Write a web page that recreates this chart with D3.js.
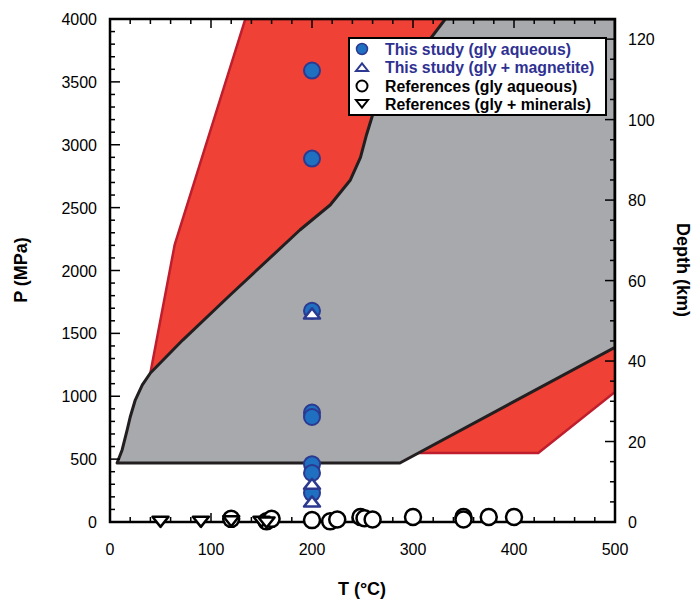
<!DOCTYPE html>
<html><head><meta charset="utf-8">
<script src="https://cdn.jsdelivr.net/npm/d3@7"></script>
<style>body{margin:0;background:#fff}svg{font-family:"Liberation Sans",Arial,sans-serif}</style>
</head><body><svg id="c" width="692" height="601"></svg>
<script>
// ---- data ----
const xTicks = [0,100,200,300,400,500];
const yTicks = [0,500,1000,1500,2000,2500,3000,3500,4000];
const depthTicks = [0,20,40,60,80,100,120];

// gray stability field boundary (T °C, P MPa)
const grayT = [7,12,17,20,25,32,40,72,119,188,218,238,248,254,260,332,500,500,287];
const grayP = [469,573,732,835,970,1090,1185,1447,1805,2322,2521,2720,2900,3080,3237,4000,4000,1390,469];
// red field (upper)
const redUpT = [40,64,134,345,345];
const redUpP = [1185,2203,4000,4000,1185];
// red field (lower)
const redLoT = [290,424,500,500,290];
const redLoP = [549,549,1034,1390,1390];

// This study
const studyAqT = [200,200,200,200,200,200,200,200];
const studyAqP = [3590,2890,1680,870,835,460,390,230];
const studyMagT = [200,200,200];
const studyMagP = [1650,295,155];
// References
const refAqT = [120,155,160,200,218,225,248,252,260,300,350,350,375,400];
const refAqP = [25,5,25,15,5,20,40,30,20,40,40,20,40,40];
const refMinT = [50,90,120,150,155];
const refMinP = [10,10,15,10,5];

const legendLabels = ["This study (gly aqueous)","This study (gly + magnetite)","References (gly aqueous)","References (gly + minerals)"];

// ---- layout ----
const L=110,R=615,T=19,B=522;
const svg=d3.select("#c");
const x=d3.scaleLinear().domain([0,500]).range([L,R]);
const y=d3.scaleLinear().domain([0,4000]).range([B,T]);
const yd=d3.scaleLinear().domain([0,125]).range([B,T]);

svg.append("clipPath").attr("id","clip").append("rect").attr("x",L).attr("y",T).attr("width",R-L).attr("height",B-T);
const g=svg.append("g").attr("clip-path","url(#clip)");
const line=d3.line().x(d=>x(d[0])).y(d=>y(d[1]));
const zip=(a,b)=>a.map((v,i)=>[v,b[i]]);

g.append("path").attr("d",line(zip(redUpT,redUpP))+"Z").attr("fill","#ef4136").attr("stroke","#be1e2d").attr("stroke-width",2.5).attr("stroke-linejoin","round");
g.append("path").attr("d",line(zip(redLoT,redLoP))+"Z").attr("fill","#ef4136").attr("stroke","#be1e2d").attr("stroke-width",2.5).attr("stroke-linejoin","round");
g.append("path").attr("d",line(zip(grayT,grayP))+"Z").attr("fill","#a7a9ac").attr("stroke","#231f20").attr("stroke-width",3).attr("stroke-linejoin","round");

// axes with inward ticks
const ax=svg.append("g").attr("stroke","#000").attr("stroke-width",1.5);
for(let t=0;t<=500;t+=20){
  const len = t%100===0?9:5;
  ax.append("line").attr("x1",x(t)).attr("x2",x(t)).attr("y1",B).attr("y2",B-len);
  ax.append("line").attr("x1",x(t)).attr("x2",x(t)).attr("y1",T).attr("y2",T+len);
}
for(let p=0;p<=4000;p+=100){
  const len = p%500===0?10:5;
  ax.append("line").attr("x1",L).attr("x2",L+len).attr("y1",y(p)).attr("y2",y(p));
}
for(let d=0;d<=125;d+=5){
  const len = d%20===0?10:5;
  ax.append("line").attr("x1",R).attr("x2",R-len).attr("y1",yd(d)).attr("y2",yd(d));
}
svg.append("rect").attr("x",L).attr("y",T).attr("width",R-L).attr("height",B-T).attr("fill","none").attr("stroke","#000").attr("stroke-width",2.5);

// tick labels
svg.selectAll(".xl").data(xTicks).enter().append("text").attr("x",d=>x(d)).attr("y",B+33).attr("text-anchor","middle").attr("font-size",16).text(d=>d);
svg.selectAll(".yl").data(yTicks).enter().append("text").attr("x",L-13).attr("y",d=>y(d)+6).attr("text-anchor","end").attr("font-size",16).text(d=>d);
svg.selectAll(".dl").data(depthTicks).enter().append("text").attr("x",R+13).attr("y",d=>yd(d)+6).attr("text-anchor","start").attr("font-size",16).text(d=>d);

svg.append("text").attr("x",362).attr("y",595).attr("text-anchor","middle").attr("font-size",18).attr("font-weight","bold").text("T (°C)");
svg.append("text").attr("transform","translate(27,270) rotate(-90)").attr("text-anchor","middle").attr("font-size",18).attr("font-weight","bold").text("P (MPa)");
svg.append("text").attr("transform","translate(677,270) rotate(90)").attr("text-anchor","middle").attr("font-size",18).attr("font-weight","bold").text("Depth (km)");

// markers
const tri=(cx,cy,s,down)=>{const h=s*0.9;return down?`M${cx-s},${cy-h*0.55}L${cx+s},${cy-h*0.55}L${cx},${cy+h*0.85}Z`:`M${cx-s},${cy+h*0.55}L${cx+s},${cy+h*0.55}L${cx},${cy-h*0.85}Z`;};
const pts=svg.append("g");
pts.selectAll(".ra").data(zip(refAqT,refAqP)).enter().append("circle").attr("cx",d=>x(d[0])).attr("cy",d=>y(d[1])).attr("r",8).attr("fill","#fff").attr("stroke","#000").attr("stroke-width",2.5);
pts.selectAll(".rm").data(zip(refMinT,refMinP)).enter().append("path").attr("d",d=>tri(x(d[0]),y(d[1]),8,true)).attr("fill","#fff").attr("stroke","#000").attr("stroke-width",2.5).attr("stroke-linejoin","round");
pts.selectAll(".sa").data(zip(studyAqT,studyAqP)).enter().append("circle").attr("cx",d=>x(d[0])).attr("cy",d=>y(d[1])).attr("r",8).attr("fill","#1f70c1").attr("stroke","#2b3990").attr("stroke-width",2);
pts.selectAll(".sm").data(zip(studyMagT,studyMagP)).enter().append("path").attr("d",d=>tri(x(d[0]),y(d[1]),8,false)).attr("fill","#fff").attr("stroke","#2b3990").attr("stroke-width",2.5).attr("stroke-linejoin","round");

// legend
const lg=svg.append("g");
lg.append("rect").attr("x",349).attr("y",38).attr("width",257).attr("height",77).attr("fill","#fff").attr("stroke","#000").attr("stroke-width",2);
const ly=[49,67,86,104];
lg.append("circle").attr("cx",362).attr("cy",ly[0]).attr("r",5.5).attr("fill","#1f70c1").attr("stroke","#2b3990").attr("stroke-width",1.5);
lg.append("path").attr("d",tri(362,ly[1]+1,6,false)).attr("fill","#fff").attr("stroke","#2b3990").attr("stroke-width",2);
lg.append("circle").attr("cx",362).attr("cy",ly[2]).attr("r",5.5).attr("fill","#fff").attr("stroke","#000").attr("stroke-width",2);
lg.append("path").attr("d",tri(362,ly[3]-1,6,true)).attr("fill","#fff").attr("stroke","#000").attr("stroke-width",2);
legendLabels.forEach((t,i)=>{
  lg.append("text").attr("x",385).attr("y",ly[i]+5.5).attr("font-size",15.8).attr("font-weight","bold").attr("fill",i<2?"#2e3192":"#000").text(t);
});
</script></body></html>
